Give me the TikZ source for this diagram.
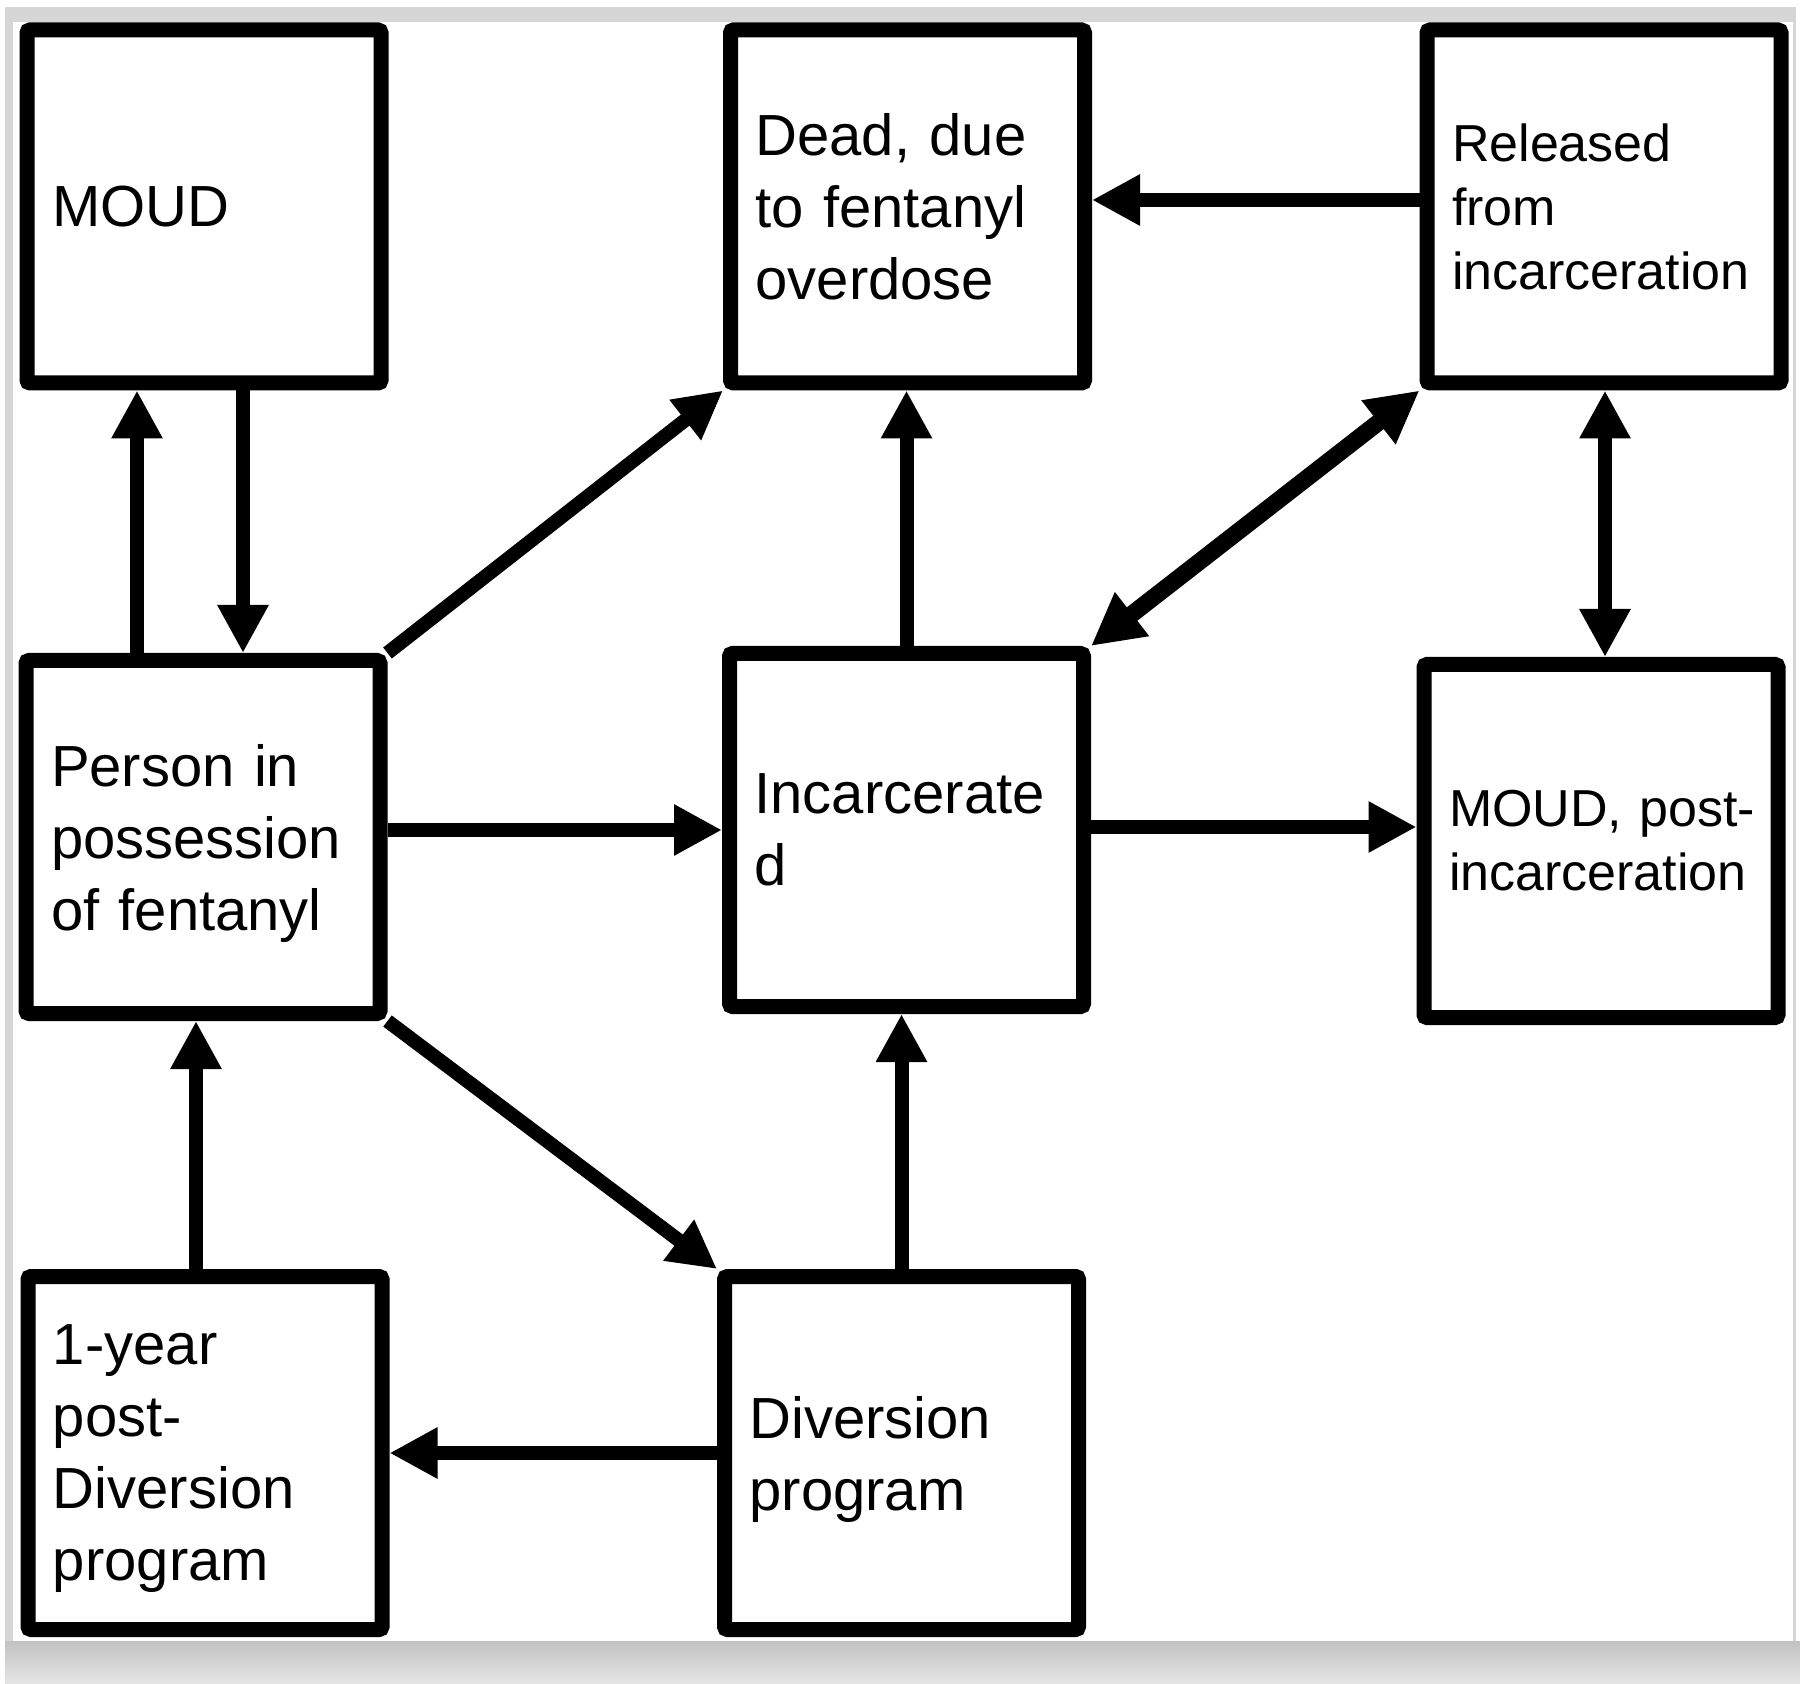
\documentclass[tikz,border=0pt]{standalone}
\usepackage{fontspec}
\setmainfont{Liberation Sans}
\usetikzlibrary{arrows.meta}
\begin{document}
\begin{tikzpicture}[x=0.5pt,y=-0.5pt,
  box/.style={draw=black, line width=7.5pt, fill=white, minimum width=177pt,
    minimum height=176.5pt, text width=152pt, align=left, inner sep=0pt,
    rounded corners=1.5pt, font=\fontsize{29pt}{36pt}\selectfont},
  smalltext/.style={font=\fontsize{26pt}{32pt}\selectfont},
  arr/.style={line width=7pt, -{Triangle[length=24pt,width=24pt]}},
  dblarr/.style={line width=8.5pt, {Triangle[length=26pt,width=26pt]}-{Triangle[length=26pt,width=26pt]}},
  dblarrv/.style={line width=7pt, {Triangle[length=24pt,width=24pt]}-{Triangle[length=24pt,width=24pt]}}
]
\useasboundingbox (0,0) rectangle (1800,1684);
\fill[white] (0,0) rectangle (1800,1684);
\fill[black!16] (5,7) rectangle (1800,1684);
\shade[top color=black!24, bottom color=black!10] (5,1641) rectangle (1800,1684);
\fill[white] (13,22) rectangle (1793,1641);
\fill[white] (1796,0) rectangle (1800,1641);

\node[box] (moud) at (204,206.5) {MOUD};
\node[box] (dead) at (907.5,206.5) {\mbox{Dead, due}\\\mbox{to fentanyl}\\overdose};
\node[box, smalltext] (rel) at (1604,206.5) {Released\\from\\incarceration};
\node[box] (person) at (203,837) {\mbox{Person in}\\possession\\\smash{of fentanyl}};
\node[box] (inc) at (906.5,830) {Incarcerate\\d};
\node[box, smalltext] (moudpost) at (1601,841) {\mbox{MOUD, post-}\\incarceration};
\node[box] (oneyear) at (205,1453) {1-year\\\mbox{post-}\\Diversion\\\smash{program}};
\node[box] (div) at (901.5,1453) {Diversion\\\smash{program}};

\coordinate (xa) at (137,0);
\coordinate (xb) at (243,0);
\coordinate (xc) at (196,0);
\coordinate (xd) at (1605,0);
\coordinate (ya) at (0,200);
\coordinate (yb) at (0,830);
\coordinate (yc) at (0,827);
\coordinate (yd) at (0,1453);

\draw[arr] (person.north -| xa) -- (moud.south -| xa);
\draw[arr] (moud.south -| xb) -- (person.north -| xb);
\draw[arr] (person.north east) -- (dead.south west);
\draw[arr] (rel.west |- ya) -- (dead.east |- ya);
\draw[arr] (inc.north) -- (dead.south -| inc.north);
\draw[dblarr] (rel.south west) -- (inc.north east);
\draw[dblarrv] (rel.south -| xd) -- (moudpost.north -| xd);
\draw[arr] (person.east |- yb) -- (inc.west |- yb);
\draw[arr] (inc.east |- yc) -- (moudpost.west |- yc);
\draw[arr] (person.south east) -- (div.north west);
\draw[arr] (oneyear.north -| xc) -- (person.south -| xc);
\draw[arr] (div.north) -- (inc.south -| div.north);
\draw[arr] (div.west |- yd) -- (oneyear.east |- yd);
\end{tikzpicture}
\end{document}
